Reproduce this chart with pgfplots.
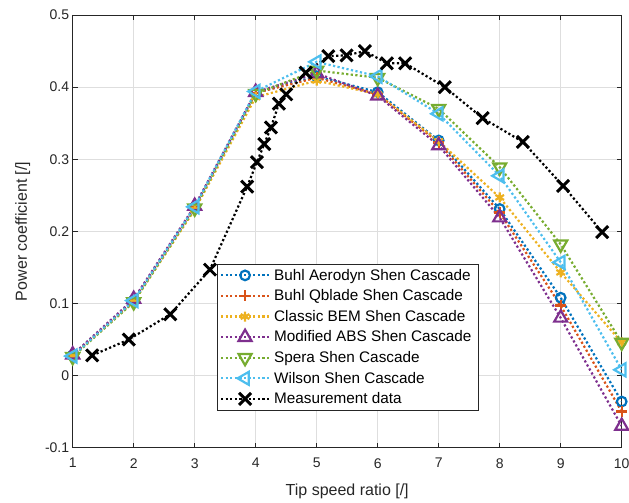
\documentclass[border=0pt]{standalone}
\usepackage{fontspec}
\setmainfont{Liberation Sans}
\usepackage{pgfplots}
\pgfplotsset{compat=1.18}
\definecolor{axgray}{rgb}{0.15,0.15,0.15}
\definecolor{gridgray}{rgb}{0.87,0.87,0.87}
\definecolor{mblue}{rgb}{0,0.447,0.741}
\definecolor{morange}{rgb}{0.85,0.325,0.098}
\definecolor{myellow}{rgb}{0.929,0.694,0.125}
\definecolor{mpurple}{rgb}{0.494,0.184,0.556}
\definecolor{mgreen}{rgb}{0.466,0.674,0.188}
\definecolor{mcyan}{rgb}{0.301,0.745,0.933}
\begin{document}
\begin{tikzpicture}
\begin{axis}[
    scale only axis,
    width=549pt, height=432.7pt,
    xmin=1, xmax=10, ymin=-0.1, ymax=0.5,
    xtick={1,2,3,4,5,6,7,8,9,10},
    ytick={-0.1,0,0.1,0.2,0.3,0.4,0.5},
    grid=major,
    major grid style={color=gridgray, line width=0.6pt},
    axis line style={color=axgray, line width=0.6pt},
    tick style={color=axgray, line width=0.6pt},
    tick align=inside, major tick length=5pt,
    ticklabel style={font=\fontsize{14}{16}\selectfont, text=axgray},
    xticklabel style={yshift=-7pt},
    /pgf/number format/assume math mode=true,
    xlabel={Tip speed ratio [/]},
    ylabel={Power coefficient [/]},
    label style={font=\fontsize{16}{18}\selectfont, text=axgray},
    xlabel style={yshift=-9pt},
    ylabel style={yshift=8pt},
    every axis plot/.append style={line width=2.2pt, dash pattern=on 2.2pt off 2.4pt},
    legend cell align=left,
    legend style={at={(axis cs:3.36,0.155)}, anchor=north west,
        draw=axgray, line width=0.6pt, fill=white,
        font=\fontsize{15.3}{17}\selectfont, row sep=4pt,
        inner xsep=3pt, inner ysep=3pt,
        nodes={inner xsep=4pt}},
    legend image code/.code={
        \draw[mark repeat=2, mark phase=2] plot coordinates {(0pt,0pt) (24pt,0pt) (48pt,0pt)};},
]
\addplot[color=mblue, mark=o, mark size=4.8pt, mark options={solid, line width=2.2pt}] coordinates {
    (1,0.028) (2,0.104) (3,0.233) (4,0.392) (5,0.415) (6,0.393) (7,0.326) (8,0.231) (9,0.108) (10,-0.036)};
\addlegendentry{Buhl Aerodyn Shen Cascade}
\addplot[color=morange, mark=+, mark size=5.5pt, mark options={solid, line width=2.4pt}] coordinates {
    (1,0.028) (2,0.104) (3,0.233) (4,0.392) (5,0.413) (6,0.390) (7,0.323) (8,0.226) (9,0.097) (10,-0.050)};
\addlegendentry{Buhl Qblade Shen Cascade}
\addplot[color=myellow, mark=asterisk, mark size=5pt, mark options={solid, line width=2.2pt}] coordinates {
    (1,0.027) (2,0.102) (3,0.230) (4,0.386) (5,0.409) (6,0.390) (7,0.325) (8,0.247) (9,0.143) (10,0.046)};
\addlegendentry{Classic BEM Shen Cascade}
\addplot[color=mpurple, mark=triangle, mark size=7.5pt, mark options={solid, line width=2.2pt}] coordinates {
    (1,0.029) (2,0.106) (3,0.235) (4,0.393) (5,0.419) (6,0.388) (7,0.319) (8,0.219) (9,0.080) (10,-0.070)};
\addlegendentry{Modified ABS Shen Cascade}
\addplot[color=mgreen, mark=triangle, mark size=7.5pt, mark options={solid, line width=2.2pt, rotate=180}] coordinates {
    (1,0.026) (2,0.102) (3,0.232) (4,0.391) (5,0.423) (6,0.413) (7,0.370) (8,0.289) (9,0.182) (10,0.046)};
\addlegendentry{Spera Shen Cascade}
\addplot[color=mcyan, mark=triangle, mark size=7.5pt, mark options={solid, line width=2.2pt, rotate=90}] coordinates {
    (1,0.027) (2,0.104) (3,0.234) (4,0.394) (5,0.435) (6,0.415) (7,0.363) (8,0.277) (9,0.157) (10,0.008)};
\addlegendentry{Wilson Shen Cascade}
\addplot[color=black, mark=x, mark size=8.5pt, mark options={solid, line width=3pt}] coordinates {
    (1.32,0.028) (1.92,0.050) (2.60,0.085) (3.25,0.147) (3.86,0.262) (4.02,0.296)
    (4.14,0.321) (4.25,0.344) (4.38,0.377) (4.50,0.390) (4.82,0.420) (5.19,0.443)
    (5.49,0.444) (5.79,0.450) (6.15,0.433) (6.45,0.433) (7.10,0.400) (7.72,0.357)
    (8.38,0.324) (9.04,0.263) (9.68,0.199)};
\addlegendentry{Measurement data}
\end{axis}
\pgfresetboundingbox
\path[use as bounding box] ([xshift=-72.7pt,yshift=-54.3pt]current axis.south west)
    rectangle ([xshift=7.3pt,yshift=15pt]current axis.north east);
\end{tikzpicture}
\end{document}
